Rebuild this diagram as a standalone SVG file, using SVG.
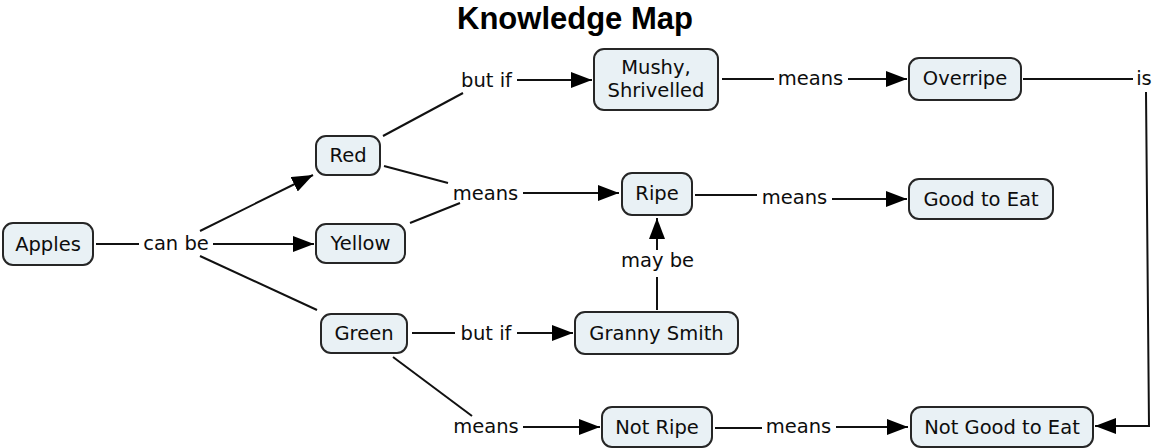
<svg xmlns="http://www.w3.org/2000/svg" width="1154" height="448" viewBox="0 0 1154 448">
  <style>
    .node rect { fill: #e9f1f5; stroke: #262626; stroke-width: 2; }
    .node text, .label { font-family: "DejaVu Sans", Verdana, sans-serif; font-size: 19.5px; fill: #0d0d0d; text-anchor: middle; }
    .title { font-family: "Liberation Sans", Arial, sans-serif; font-size: 31px; font-weight: bold; fill: #000; text-anchor: middle; }
    #connectors line, #connectors polyline { stroke: #111; stroke-width: 2; fill: none; }
    .arrow { marker-end: url(#head); }
  </style>
  <defs>
    <marker id="head" markerUnits="userSpaceOnUse" markerWidth="21" markerHeight="16" refX="21" refY="8" orient="auto">
      <path d="M0,0 L21,8 L0,16 z" fill="#000"/>
    </marker>
  </defs>

  <rect width="1154" height="448" fill="#fff"/>
  <text class="title" x="575" y="29">Knowledge Map</text>

  <g id="connectors">
    <line x1="96" y1="244" x2="139" y2="244"/>
    <line class="arrow" x1="213" y1="244" x2="314" y2="244"/>
    <line class="arrow" x1="200" y1="231" x2="313" y2="175"/>
    <line x1="200" y1="256" x2="317" y2="310"/>
    <line x1="383" y1="136" x2="463" y2="93"/>
    <line class="arrow" x1="517" y1="80" x2="592" y2="80"/>
    <line x1="722" y1="79" x2="774" y2="79"/>
    <line class="arrow" x1="848" y1="79" x2="907" y2="79"/>
    <line x1="1023" y1="79" x2="1133" y2="79"/>
    <polyline class="arrow" points="1146,92 1149,426 1095,426"/>
    <line x1="384" y1="166" x2="448" y2="183"/>
    <line x1="410" y1="223" x2="460" y2="203"/>
    <line class="arrow" x1="523" y1="193" x2="619" y2="193"/>
    <line x1="695" y1="195" x2="757" y2="195"/>
    <line class="arrow" x1="832" y1="199" x2="907" y2="199"/>
    <line x1="657" y1="310" x2="657" y2="277"/>
    <line class="arrow" x1="657" y1="250" x2="657" y2="218"/>
    <line x1="412" y1="333" x2="455" y2="333"/>
    <line class="arrow" x1="517" y1="333" x2="573" y2="333"/>
    <line x1="393" y1="357" x2="472" y2="416"/>
    <line class="arrow" x1="523" y1="427" x2="600" y2="427"/>
    <line x1="715" y1="428" x2="762" y2="428"/>
    <line class="arrow" x1="836" y1="427" x2="908" y2="427"/>
  </g>

  <g id="link-labels">
    <text class="label" x="176" y="250">can be</text>
    <text class="label" x="486.5" y="86.5">but if</text>
    <text class="label" x="810.5" y="85">means</text>
    <text class="label" x="1144" y="85">is</text>
    <text class="label" x="485.5" y="199.5">means</text>
    <text class="label" x="794.5" y="204">means</text>
    <text class="label" x="657.5" y="267">may be</text>
    <text class="label" x="486" y="339.5">but if</text>
    <text class="label" x="486" y="433">means</text>
    <text class="label" x="798.5" y="433">means</text>
  </g>

  <g id="apples" class="node"><rect x="3" y="223" width="90" height="42" rx="10"/><text x="48" y="250.5">Apples</text></g>
  <g id="red" class="node"><rect x="316" y="136" width="64" height="39" rx="10"/><text x="348" y="162">Red</text></g>
  <g id="yellow" class="node"><rect x="316" y="224" width="89" height="39" rx="10"/><text x="360.5" y="250">Yellow</text></g>
  <g id="green" class="node"><rect x="321" y="314" width="86" height="39" rx="10"/><text x="364" y="340">Green</text></g>
  <g id="mushy" class="node"><rect x="594" y="49" width="124" height="61" rx="10"/><text x="656" y="74">Mushy,</text><text x="656" y="97">Shrivelled</text></g>
  <g id="overripe" class="node"><rect x="909" y="58" width="112" height="42" rx="10"/><text x="965" y="85">Overripe</text></g>
  <g id="ripe" class="node"><rect x="622" y="173" width="70" height="42" rx="10"/><text x="657" y="200">Ripe</text></g>
  <g id="good-to-eat" class="node"><rect x="909" y="179" width="144" height="40" rx="10"/><text x="981" y="205.5">Good to Eat</text></g>
  <g id="granny-smith" class="node"><rect x="575" y="312" width="163" height="42" rx="10"/><text x="656.5" y="339.5">Granny Smith</text></g>
  <g id="not-ripe" class="node"><rect x="602" y="407" width="110" height="40" rx="10"/><text x="657" y="433.5">Not Ripe</text></g>
  <g id="not-good-to-eat" class="node"><rect x="911" y="407" width="182" height="40" rx="10"/><text x="1002" y="433.5">Not Good to Eat</text></g>
</svg>
